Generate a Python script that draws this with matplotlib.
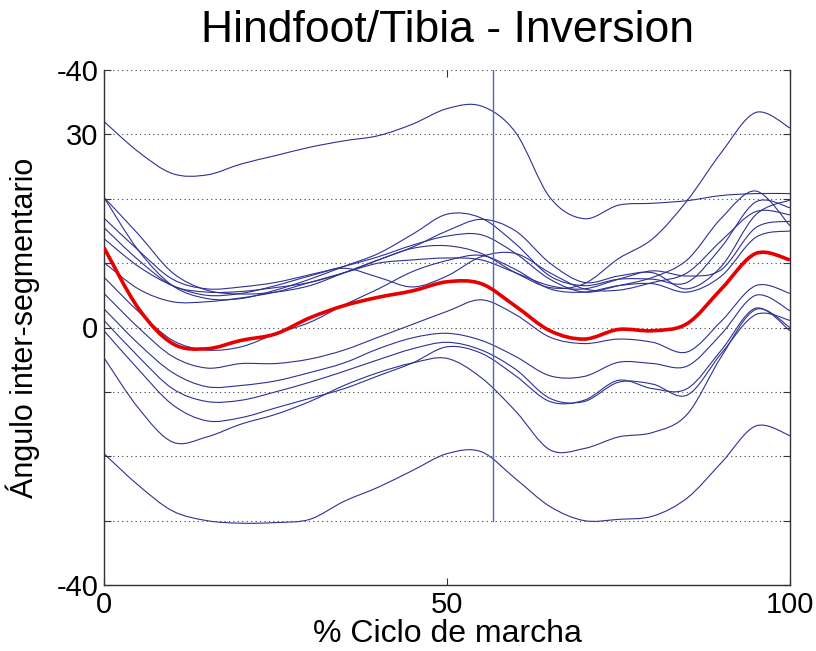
import matplotlib
matplotlib.use("Agg")
import matplotlib.pyplot as plt
from matplotlib.path import Path
from matplotlib.patches import PathPatch
import numpy as np

plt.rcParams['font.family'] = ['Liberation Sans', 'DejaVu Sans']

# ---- data ----
x_pct = [0, 5, 10, 15, 20, 25, 30, 35, 40, 45, 50, 55, 60, 65, 70, 75, 80, 85, 90, 95, 100]

trial_T  = [32.0, 27.3, 23.9, 23.7, 25.4, 26.7, 28.0, 29.0, 29.8, 31.6, 34.0, 34.4, 30.3, 20.2, 16.9, 19.0, 19.3, 19.7, 20.5, 20.8, 20.8]
trial_U1 = [20.2, 12.0, 6.5, 4.5, 4.5, 5.8, 7.5, 9.5, 11.5, 14.5, 17.6, 17.0, 13.0, 8.0, 6.5, 7.5, 7.5, 7.0, 12.5, 19.5, 18.6]
trial_U2 = [20.2, 14.5, 8.5, 5.8, 5.2, 5.5, 6.5, 8.5, 10.5, 12.5, 15.0, 16.8, 15.0, 10.0, 7.0, 8.0, 8.5, 6.0, 9.5, 17.5, 19.8]
trial_U3 = [17.0, 12.0, 7.5, 6.0, 6.3, 7.0, 8.2, 9.5, 11.0, 12.8, 14.2, 14.4, 11.5, 7.5, 5.5, 6.5, 7.8, 10.5, 17.0, 21.2, 15.8]
trial_U4 = [13.8, 9.5, 6.5, 5.0, 5.3, 6.5, 8.0, 9.2, 7.8, 6.3, 8.0, 11.0, 11.5, 8.5, 6.0, 5.8, 7.0, 8.5, 13.5, 18.0, 17.5]
trial_U5 = [10.1, 6.0, 4.0, 4.0, 4.6, 5.5, 7.0, 8.5, 10.0, 10.5, 10.8, 10.5, 8.5, 6.5, 6.0, 7.5, 8.8, 8.0, 9.0, 15.5, 16.5]
trial_B  = [15.5, 10.5, 6.5, 5.5, 5.6, 6.2, 7.0, 8.5, 10.5, 12.3, 12.7, 11.5, 8.5, 6.2, 6.8, 10.7, 13.8, 19.7, 27.2, 33.4, 31.0]
trial_L1 = [7.8, 2.5, -2.0, -3.5, -3.0, -1.0, 0.8, 3.5, 6.0, 8.7, 10.4, 11.2, 9.0, 6.0, 5.5, 6.5, 6.8, 5.5, 8.0, 14.0, 15.0]
trial_L2 = [5.3, 0.0, -4.5, -6.3, -5.6, -5.6, -4.9, -3.5, -1.5, 0.5, 2.5, 4.3, 2.0, -1.5, -2.5, -1.8, -2.3, -3.8, 1.0, 6.5, 5.3]
trial_L3 = [2.9, -2.5, -7.0, -9.2, -9.0, -8.3, -7.0, -5.5, -3.3, -1.6, -0.9, -2.0, -4.5, -7.5, -7.6, -5.4, -5.6, -6.0, -1.0, 5.0, 2.6]
trial_L4 = [1.1, -4.5, -9.5, -11.5, -11.3, -10.0, -8.5, -6.8, -5.0, -3.3, -2.3, -3.5, -6.5, -11.0, -11.5, -8.5, -8.8, -10.5, -4.0, 2.0, 1.1]
trial_L5 = [-0.5, -6.5, -12.0, -14.5, -14.0, -12.5, -11.0, -9.5, -7.5, -5.5, -3.0, -4.0, -7.5, -11.5, -11.3, -8.2, -9.5, -9.5, -3.5, 3.0, -0.5]
trial_L6 = [-4.7, -12.5, -17.8, -17.0, -15.0, -13.5, -11.5, -9.0, -7.0, -5.5, -4.8, -7.8, -13.0, -19.0, -18.8, -17.0, -16.3, -13.5, -4.5, 2.8, 0.0]
trial_L7 = [-19.6, -24.5, -28.5, -30.0, -30.4, -30.3, -29.8, -27.0, -24.8, -22.2, -19.6, -19.3, -23.5, -27.8, -30.0, -29.8, -29.3, -26.5, -21.0, -15.3, -16.8]

mean_curve = [12.4, 3.0, -2.5, -3.3, -2.0, -1.0, 1.5, 3.4, 4.7, 5.7, 7.1, 6.8, 3.3, -0.5, -1.8, -0.3, -0.5, 0.6, 6.0, 11.5, 10.5]

trials = [trial_T, trial_U1, trial_U2, trial_U3, trial_U4, trial_U5, trial_B,
          trial_L1, trial_L2, trial_L3, trial_L4, trial_L5, trial_L6, trial_L7]

event_x = 56.7
event_ymin = -30
event_ymax = 40

ytick_vals = [-40, -30, -20, -10, 0, 10, 20, 30, 40]
ytick_labels = ['-40', '', '', '', '0', '', '', '30', '-40']
xtick_vals = [0, 50, 100]
xtick_labels = ['0', '50', '100']

title = 'Hindfoot/Tibia - Inversion'
xlabel = '% Ciclo de marcha'
ylabel = 'Ángulo inter-segmentario'


def smooth_path(xs, ys):
    """Bezier path (Catmull-Rom style tangents) passing through the data points."""
    p = np.column_stack([xs, ys]).astype(float)
    n = len(p)
    verts = [p[0]]
    codes = [Path.MOVETO]
    for i in range(n - 1):
        p0 = p[i - 1] if i > 0 else p[i]
        p1 = p[i]
        p2 = p[i + 1]
        p3 = p[i + 2] if i + 2 < n else p[i + 1]
        c1 = p1 + (p2 - p0) / 6.0
        c2 = p2 - (p3 - p1) / 6.0
        verts += [c1, c2, p2]
        codes += [Path.CURVE4] * 3
    return Path(verts, codes)


# ---- plot ----
fig = plt.figure(figsize=(8.16, 6.51), dpi=100)
ax = fig.add_axes([104/816, 1-585/651, (790-104)/816, (585-70)/651])

for tr in trials:
    ax.add_patch(PathPatch(smooth_path(x_pct, tr), fill=False,
                           edgecolor='#2e3192', lw=0.8))
ax.add_patch(PathPatch(smooth_path(x_pct, mean_curve), fill=False,
                       edgecolor='#e80000', lw=2.6, zorder=5))
ax.plot([event_x, event_x], [event_ymin, event_ymax], color='#5563b0', lw=1.0)

ax.set_xlim(0, 100)
ax.set_ylim(-40, 40)
ax.set_yticks(ytick_vals)
ax.set_yticklabels(ytick_labels)
ax.set_xticks(xtick_vals)
ax.set_xticklabels(xtick_labels)
ax.tick_params(direction='in', top=True, right=True, length=5, width=0.8,
               labelsize=21, pad=4, colors='#333333', labelcolor='black')
ax.yaxis.grid(True, linestyle=(0, (1, 3)), color='#444444', lw=0.8)
ax.spines['top'].set_visible(False)
for s in ['left', 'right', 'bottom']:
    ax.spines[s].set_color('#333333')
    ax.spines[s].set_linewidth(1.0)

ax.set_xlabel(xlabel, fontsize=23, labelpad=0)
ax.set_ylabel(ylabel, fontsize=22, labelpad=12)
fig.text(447/816, 1-30/651, title, fontsize=32, ha='center', va='center')

fig.savefig('out.png', dpi=100)
